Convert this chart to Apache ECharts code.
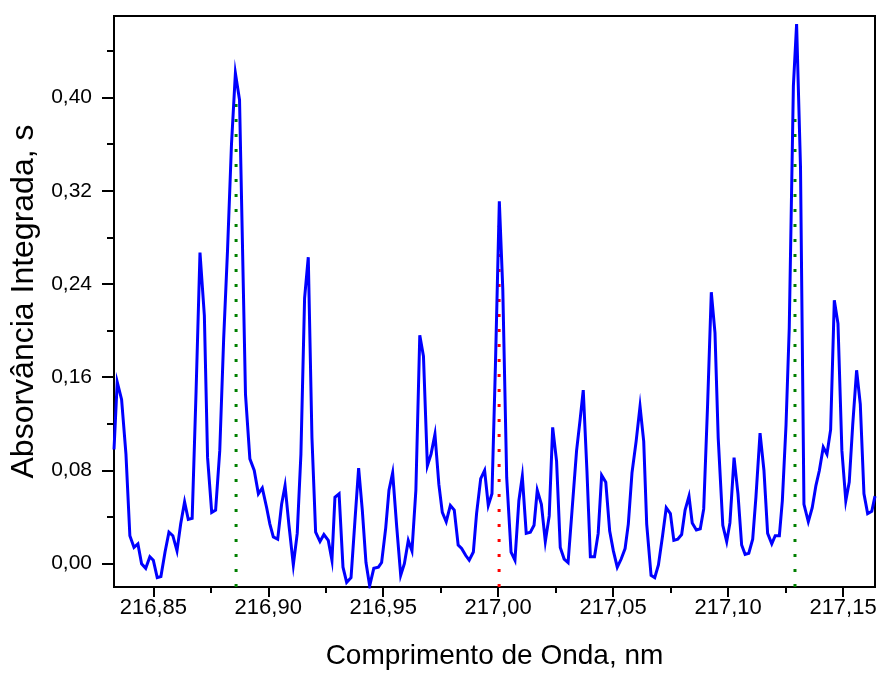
<!DOCTYPE html>
<html>
<head>
<meta charset="utf-8">
<script src="https://cdn.jsdelivr.net/npm/echarts@6/dist/echarts.min.js"></script>
<style>
html,body{margin:0;padding:0;background:#fff;}
#chart{width:881px;height:675px;}
</style>
</head>
<body>
<div id="chart"></div>
<script>
const wavelength = [
216.8329, 216.8343, 216.8362, 216.8381, 216.8398, 216.8416, 216.8433, 216.8449, 216.8467, 216.8485,
216.8500, 216.8517, 216.8533, 216.8551, 216.8568, 216.8585, 216.8603, 216.8619, 216.8636, 216.8652,
216.8669, 216.8686, 216.8703, 216.8722, 216.8736, 216.8754, 216.8771, 216.8789, 216.8806, 216.8823,
216.8840, 216.8857, 216.8875, 216.8901, 216.8920, 216.8939, 216.8957, 216.8974, 216.8993, 216.9007,
216.9022, 216.9041, 216.9058, 216.9073, 216.9090, 216.9109, 216.9126, 216.9142, 216.9158, 216.9174,
216.9190, 216.9206, 216.9225, 216.9242, 216.9261, 216.9277, 216.9290, 216.9308, 216.9325, 216.9341,
216.9360, 216.9377, 216.9393, 216.9409, 216.9425, 216.9441, 216.9459, 216.9479, 216.9493, 216.9511,
216.9525, 216.9541, 216.9559, 216.9576, 216.9592, 216.9609, 216.9625, 216.9642, 216.9659, 216.9675,
216.9692, 216.9708, 216.9725, 216.9742, 216.9757, 216.9774, 216.9792, 216.9809, 216.9826, 216.9841,
216.9859, 216.9874, 216.9892, 216.9906, 216.9924, 216.9941, 216.9957, 216.9973, 216.9988, 217.0005,
217.0020, 217.0037, 217.0056, 217.0073, 217.0090, 217.0105, 217.0122, 217.0140, 217.0156, 217.0170,
217.0188, 217.0205, 217.0222, 217.0237, 217.0254, 217.0270, 217.0287, 217.0304, 217.0321, 217.0341,
217.0356, 217.0370, 217.0386, 217.0401, 217.0419, 217.0435, 217.0450, 217.0468, 217.0485, 217.0501,
217.0518, 217.0535, 217.0552, 217.0566, 217.0582, 217.0600, 217.0617, 217.0633, 217.0646, 217.0665,
217.0681, 217.0697, 217.0715, 217.0731, 217.0749, 217.0764, 217.0781, 217.0798, 217.0813, 217.0830,
217.0844, 217.0862, 217.0879, 217.0894, 217.0911, 217.0927, 217.0943, 217.0957, 217.0977, 217.0994,
217.1008, 217.1026, 217.1043, 217.1059, 217.1074, 217.1090, 217.1107, 217.1121, 217.1139, 217.1156,
217.1172, 217.1190, 217.1205, 217.1223, 217.1236, 217.1252, 217.1266, 217.1284, 217.1298, 217.1315,
217.1330, 217.1349, 217.1366, 217.1382, 217.1397, 217.1414, 217.1430, 217.1446, 217.1462, 217.1478,
217.1495, 217.1512, 217.1527, 217.1542, 217.1559, 217.1575, 217.1591, 217.1607, 217.1625, 217.1639
];
const absorbance = [
0.098, 0.156, 0.141, 0.094, 0.024, 0.014, 0.017, 0.000, -0.004, 0.006,
0.003, -0.012, -0.011, 0.010, 0.027, 0.024, 0.011, 0.034, 0.053, 0.038,
0.039, 0.148, 0.267, 0.213, 0.091, 0.044, 0.046, 0.097, 0.193, 0.270,
0.360, 0.421, 0.398, 0.145, 0.090, 0.080, 0.060, 0.065, 0.048, 0.034,
0.023, 0.021, 0.051, 0.067, 0.033, -0.001, 0.026, 0.094, 0.228, 0.263,
0.108, 0.027, 0.019, 0.025, 0.020, 0.003, 0.057, 0.060, -0.003, -0.016,
-0.012, 0.037, 0.082, 0.046, 0.001, -0.019, -0.004, -0.003, 0.001, 0.031,
0.063, 0.078, 0.031, -0.010, 0.000, 0.020, 0.011, 0.063, 0.196, 0.178,
0.084, 0.094, 0.111, 0.068, 0.044, 0.036, 0.050, 0.046, 0.016, 0.013,
0.007, 0.003, 0.010, 0.043, 0.073, 0.080, 0.050, 0.060, 0.170, 0.311,
0.236, 0.074, 0.010, 0.003, 0.054, 0.075, 0.026, 0.027, 0.033, 0.063,
0.051, 0.019, 0.041, 0.117, 0.088, 0.014, 0.004, 0.001, 0.045, 0.097,
0.123, 0.149, 0.080, 0.006, 0.006, 0.026, 0.076, 0.070, 0.028, 0.011,
-0.003, 0.004, 0.013, 0.034, 0.078, 0.105, 0.135, 0.105, 0.034, -0.010,
-0.012, -0.001, 0.024, 0.048, 0.043, 0.020, 0.021, 0.025, 0.046, 0.058,
0.035, 0.029, 0.030, 0.047, 0.137, 0.233, 0.198, 0.108, 0.033, 0.019,
0.035, 0.091, 0.060, 0.016, 0.008, 0.009, 0.021, 0.057, 0.112, 0.080,
0.026, 0.017, 0.024, 0.024, 0.054, 0.119, 0.202, 0.410, 0.463, 0.340,
0.051, 0.036, 0.048, 0.067, 0.080, 0.100, 0.094, 0.115, 0.226, 0.206,
0.097, 0.054, 0.070, 0.119, 0.166, 0.137, 0.060, 0.043, 0.045, 0.058
];
const xMajorTicks = [216.85, 216.90, 216.95, 217.00, 217.05, 217.10, 217.15];
const xMinorTicks = [216.875, 216.925, 216.975, 217.025, 217.075, 217.125];
const yMajorTicks = [0.00, 0.08, 0.16, 0.24, 0.32, 0.40];
const yMinorTicks = [0.04, 0.12, 0.20, 0.28, 0.36, 0.44];
const greenLineX = [216.8860, 217.1291];
const greenLineTop = [0.400, 0.390];
const redLineX = [217.0004];
const redLineTop = [0.290];
const axisBottom = -0.02;
const xTitle = 'Comprimento de Onda, nm';
const yTitle = 'Absorvância Integrada, s';

const FONT = "'Liberation Sans', Arial, sans-serif";
const fmt = v => v.toFixed(2).replace('.', ',');
const xMin = 216.8329, xMax = 217.1639, yMin = -0.02, yMax = 0.47;

const series = [];
greenLineX.forEach((x, i) => {
  series.push({
    type: 'line', xAxisIndex: 0, yAxisIndex: 0, showSymbol: false, silent: true, z: 1,
    data: [[x, axisBottom], [x, greenLineTop[i]]],
    lineStyle: { color: '#008000', width: 3, type: [3, 12], cap: 'butt' }
  });
});
redLineX.forEach((x, i) => {
  series.push({
    type: 'line', xAxisIndex: 0, yAxisIndex: 0, showSymbol: false, silent: true, z: 1,
    data: [[x, axisBottom], [x, redLineTop[i]]],
    lineStyle: { color: '#ff0000', width: 3, type: [3, 12], cap: 'butt' }
  });
});
series.push({
  type: 'line', xAxisIndex: 0, yAxisIndex: 0, showSymbol: false, z: 3,
  data: wavelength.map((w, i) => [w, absorbance[i]]),
  lineStyle: { color: '#0000ff', width: 3, join: 'miter' },
  clip: true
});

const chart = echarts.init(document.getElementById('chart'), null, { renderer: 'canvas' });
chart.setOption({
  animation: false,
  backgroundColor: '#fff',
  grid: { left: 114, top: 16, width: 761, height: 574, show: true, borderColor: '#000', borderWidth: 2, backgroundColor: 'transparent' },
  xAxis: [
    {
      type: 'value', min: xMin, max: xMax, position: 'bottom',
      axisLine: { show: true, onZero: false, lineStyle: { color: '#000', width: 2 } },
      axisTick: { show: true, customValues: xMajorTicks, length: 10, lineStyle: { color: '#000', width: 2 } },
      axisLabel: { customValues: xMajorTicks, formatter: fmt, color: '#000', fontSize: 22, fontFamily: FONT, margin: 10 },
      splitLine: { show: false },
      name: xTitle, nameLocation: 'middle', nameGap: 55,
      nameTextStyle: { color: '#000', fontSize: 28, fontFamily: FONT }
    },
    {
      type: 'value', min: xMin, max: xMax, position: 'bottom',
      axisLine: { show: false, onZero: false },
      axisTick: { show: true, customValues: xMinorTicks, length: 6, lineStyle: { color: '#000', width: 2 } },
      axisLabel: { show: false },
      splitLine: { show: false }
    }
  ],
  yAxis: [
    {
      type: 'value', min: yMin, max: yMax, position: 'left',
      axisLine: { show: true, onZero: false, lineStyle: { color: '#000', width: 2 } },
      axisTick: { show: true, customValues: yMajorTicks, length: 12, lineStyle: { color: '#000', width: 2 } },
      axisLabel: { customValues: yMajorTicks, formatter: fmt, color: '#000', fontSize: 21, fontFamily: FONT, margin: 22 },
      splitLine: { show: false },
      name: yTitle, nameLocation: 'middle', nameGap: 73, nameRotate: 90,
      nameTextStyle: { color: '#000', fontSize: 32, fontFamily: FONT }
    },
    {
      type: 'value', min: yMin, max: yMax, position: 'left',
      axisLine: { show: false, onZero: false },
      axisTick: { show: true, customValues: yMinorTicks, length: 7, lineStyle: { color: '#000', width: 2 } },
      axisLabel: { show: false },
      splitLine: { show: false }
    }
  ],
  series: series
});
</script>
</body>
</html>
